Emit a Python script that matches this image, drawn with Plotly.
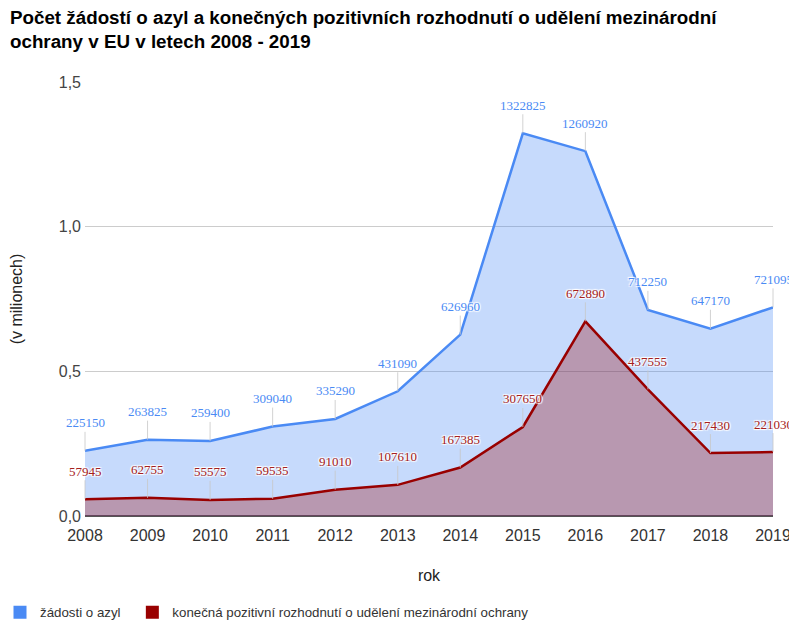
import plotly.graph_objects as go

# Data
years = [2008, 2009, 2010, 2011, 2012, 2013, 2014, 2015, 2016, 2017, 2018, 2019]
zadosti = [225150, 263825, 259400, 309040, 335290, 431090, 626960, 1322825, 1260920, 712250, 647170, 721095]
rozhodnuti = [57945, 62755, 55575, 59535, 91010, 107610, 167385, 307650, 672890, 437555, 217430, 221030]
y_ticks = [0, 500000, 1000000, 1500000]
y_tick_labels = ["0,0", "0,5", "1,0", "1,5"]

title = ("Počet žádostí o azyl a konečných pozitivních rozhodnutí o udělení mezinárodní"
         "<br>ochrany v EU v letech 2008 - 2019")
name_blue = "žádosti o azyl"
name_red = "konečná pozitivní rozhodnutí o udělení mezinárodní ochrany"

blue = "#4a8af4"
red = "#990000"
halo = "1px 1px 1px #fff, -1px -1px 1px #fff, 1px -1px 1px #fff, -1px 1px 1px #fff"

fig = go.Figure()

fig.add_trace(go.Scatter(x=years, y=zadosti, mode='lines', fill='tozeroy',
                         line=dict(color=blue, width=2.5),
                         fillcolor='rgba(66,133,244,0.3)', showlegend=False, hoverinfo='skip'))
fig.add_trace(go.Scatter(x=years, y=rozhodnuti, mode='lines', fill='tozeroy',
                         line=dict(color=red, width=2.5),
                         fillcolor='rgba(153,0,0,0.3)', showlegend=False, hoverinfo='skip'))

# legend-only entries with square swatches (nbsp padding widens the gap between items)
fig.add_trace(go.Scatter(x=[None], y=[None], mode='markers', name=name_blue + "&nbsp;" * 4,
                         marker=dict(symbol='square', size=13, color=blue)))
fig.add_trace(go.Scatter(x=[None], y=[None], mode='markers', name=name_red,
                         marker=dict(symbol='square', size=13, color=red)))

# Data labels with stems
annotations = []
for series, color in [(zadosti, blue), (rozhodnuti, "#a52020")]:
    for x, y in zip(years, series):
        annotations.append(dict(
            x=x, y=y, text=str(y), showarrow=True, arrowhead=0, arrowwidth=1,
            arrowcolor='rgba(200,200,200,0.8)', ax=0, ay=-28,
            font=dict(family='Liberation Serif, Times New Roman, serif', size=13,
                      color=color, shadow=halo),
        ))

# page body adds an 8px margin, so the figure is 8px smaller than the window
fig.update_layout(
    title=dict(text=title, x=0.0025, xanchor='left', yref='container', y=0.974, yanchor='middle',
               font=dict(family='Liberation Sans, Arial, sans-serif', size=18.8, color='#000',
                         weight='bold')),
    width=789, height=612,
    margin=dict(l=77, r=24, t=74, b=104, autoexpand=False),
    plot_bgcolor='white', paper_bgcolor='white',
    font=dict(family='Liberation Sans, Arial, sans-serif', size=16, color='#222'),
    annotations=annotations,
    legend=dict(orientation='h', xref='container', x=0, xanchor='left', indentation=-8,
                yref='container', y=0.012, yanchor='middle',
                font=dict(size=13.3, color='#333'), itemwidth=30),
    hovermode=False,
)

fig.update_xaxes(range=[2008, 2019], tickvals=years, showgrid=False, zeroline=False,
                 showline=False, ticks='', automargin=False, ticklabelstandoff=8,
                 title=dict(text='rok', standoff=26, font=dict(size=16)),
                 tickfont=dict(size=16, color='#333'))
fig.update_yaxes(range=[0, 1500000], tickvals=y_ticks, ticktext=y_tick_labels,
                 showgrid=True, gridcolor='#cccccc', gridwidth=1, zeroline=True,
                 zerolinecolor='#555555', zerolinewidth=1.5, ticks='', automargin=False,
                 ticklabelstandoff=3,
                 title=dict(text='(v milionech)', standoff=43, font=dict(size=16)),
                 tickfont=dict(size=16, color='#444'))

fig.write_html("out.html")
